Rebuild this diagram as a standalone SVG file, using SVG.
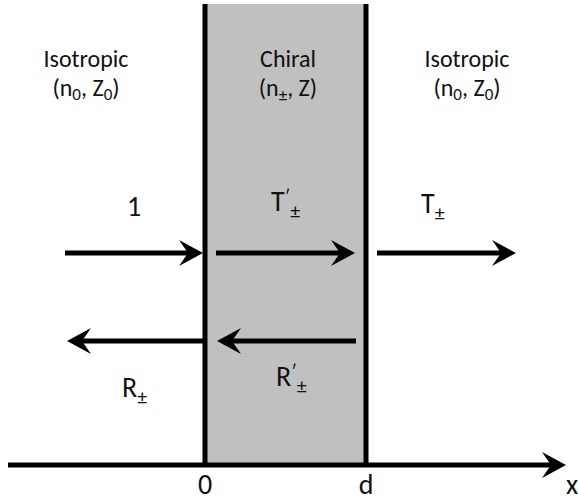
<svg xmlns="http://www.w3.org/2000/svg" width="578" height="504" viewBox="0 0 578 504">
<style>
.t{font-family:Carlito,Lato,"Liberation Sans",sans-serif;fill:#111;}
.h{font-size:24px;text-anchor:middle;}
.l{font-size:28px;}
.s{font-size:17px;}
.s2{font-size:20px;}
.ln{stroke:#000;stroke-width:5;fill:none;}
</style>
<defs>
<marker id="ah" markerUnits="userSpaceOnUse" viewBox="-15 -14 26 28" markerWidth="26" markerHeight="28" refX="0" refY="0" orient="auto" overflow="visible">
<path d="M10,0 L-14,-13 L-5,0 L-14,13 Z" fill="#000"/>
</marker>
</defs>
<rect x="205" y="4" width="161" height="461" fill="#c0c0c0"/>
<g id="connectors">
<line class="ln" x1="205" y1="4" x2="205" y2="465"/>
<line class="ln" x1="366" y1="4" x2="366" y2="465"/>
<line class="ln" x1="8" y1="465" x2="556" y2="465" marker-end="url(#ah)"/>
<line class="ln" x1="65" y1="253" x2="193" y2="253" marker-end="url(#ah)"/>
<line class="ln" x1="216" y1="253" x2="345" y2="253" marker-end="url(#ah)"/>
<line class="ln" x1="377" y1="253" x2="506" y2="253" marker-end="url(#ah)"/>
<line class="ln" x1="204" y1="341" x2="77" y2="341" marker-end="url(#ah)"/>
<line class="ln" x1="356" y1="341" x2="227" y2="341" marker-end="url(#ah)"/>
</g>
<g id="left-medium">
<text class="t h" x="86" y="67">Isotropic</text>
<text class="t h" x="86" y="96">(n<tspan class="s" dy="4">0</tspan><tspan dy="-4">, Z</tspan><tspan class="s" dy="4">0</tspan><tspan dy="-4">)</tspan></text>
</g>
<g id="chiral-medium">
<text class="t h" x="288" y="67">Chiral</text>
<text class="t h" x="288" y="96">(n<tspan class="s" dy="5">±</tspan><tspan dy="-5">, Z)</tspan></text>
</g>
<g id="right-medium">
<text class="t h" x="467" y="67">Isotropic</text>
<text class="t h" x="467" y="96">(n<tspan class="s" dy="4">0</tspan><tspan dy="-4">, Z</tspan><tspan class="s" dy="4">0</tspan><tspan dy="-4">)</tspan></text>
</g>
<g id="incident"><text class="t l" x="127" y="216">1</text></g>
<g id="t-prime"><text class="t l" x="271" y="211">T<tspan class="s" dy="-8">′</tspan><tspan class="s2" dy="15">±</tspan></text></g>
<g id="t-out"><text class="t l" x="421" y="213">T<tspan class="s2" dy="7">±</tspan></text></g>
<g id="r-out"><text class="t l" x="122" y="397">R<tspan class="s2" dy="7">±</tspan></text></g>
<g id="r-prime"><text class="t l" x="276" y="386">R<tspan class="s" dy="-8">′</tspan><tspan class="s2" dy="15">±</tspan></text></g>
<g id="axis-labels">
<text class="t l" x="205" y="494" text-anchor="middle">0</text>
<text class="t l" x="366" y="494" text-anchor="middle">d</text>
<text class="t l" x="572" y="494" text-anchor="middle">x</text>
</g>
</svg>
